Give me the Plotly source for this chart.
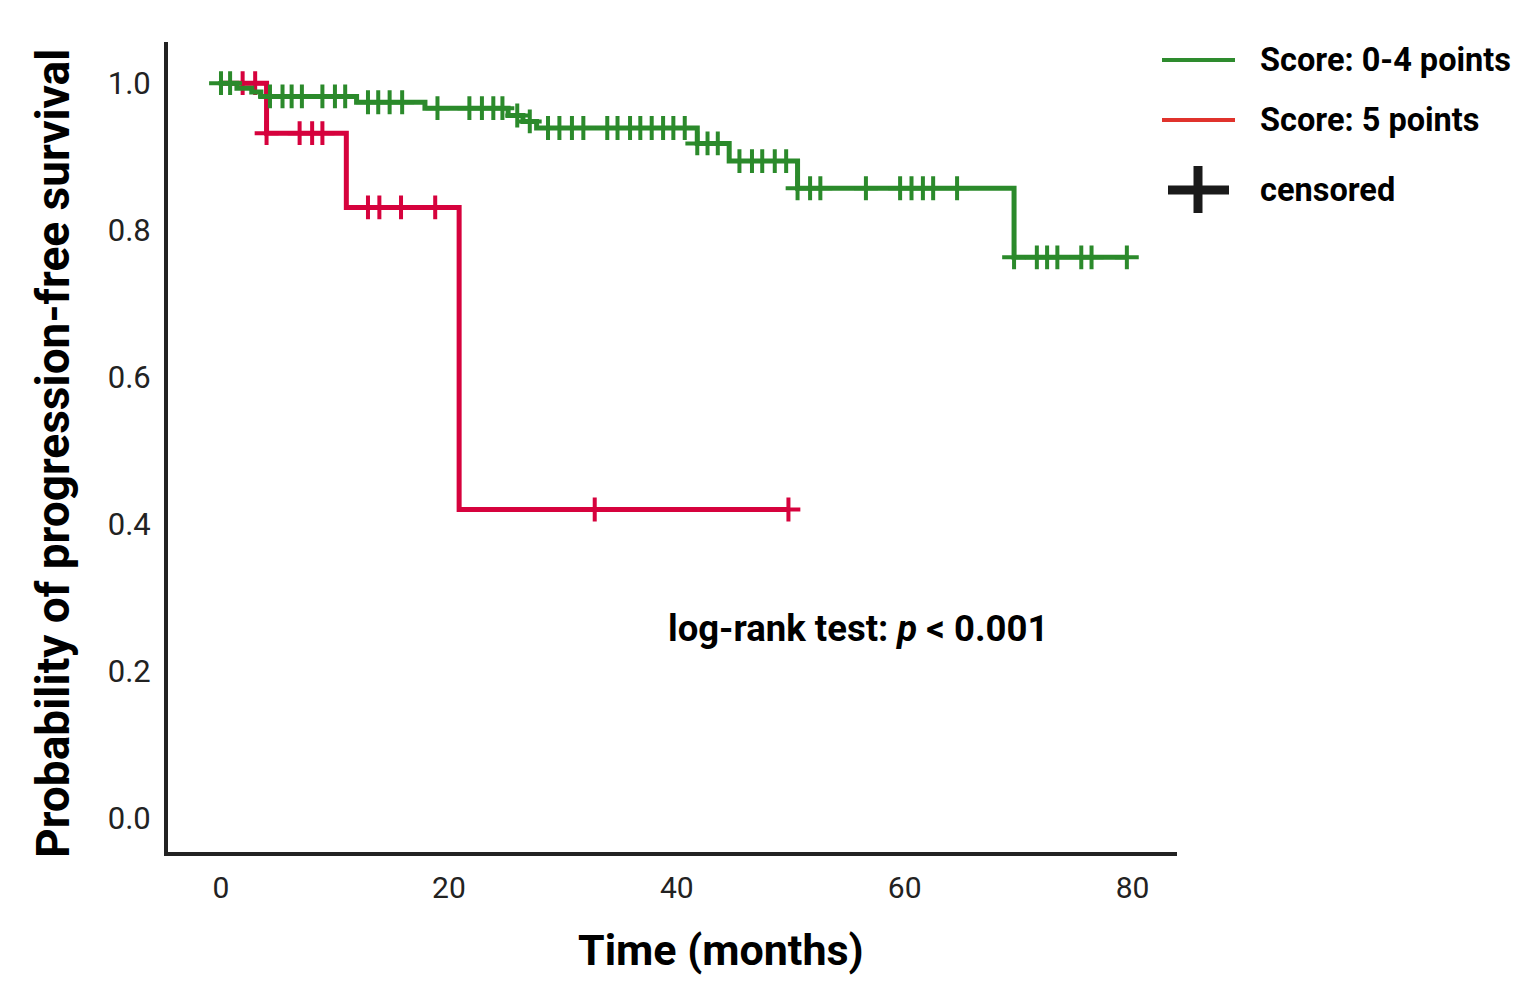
import numpy as np
import plotly.graph_objects as go

# ---- data ----
green_event_times = [1.4, 2.7, 3.5, 11.9, 17.9, 25.2, 26.5, 27.7, 41.8, 44.6, 50.6, 69.6]
green_survival = [0.993, 0.988, 0.982, 0.974, 0.966, 0.956, 0.948, 0.939, 0.918, 0.894, 0.857, 0.763]
green_censor_times = [0.0, 0.8,
                      4.3, 5.4, 6.2, 7.1, 8.9, 10.0, 10.9,
                      12.9, 13.8, 14.8, 15.9,
                      19.0, 21.8, 22.9, 23.9, 24.7,
                      26.0, 27.1,
                      28.7, 29.7, 30.8, 31.8, 33.9, 34.8, 35.9, 36.8, 37.8, 38.8, 39.7, 40.7,
                      41.8, 42.7, 43.6,
                      45.5, 46.6, 47.5, 48.6, 49.6,
                      50.6, 51.7, 52.6, 56.6, 59.6, 60.6, 61.6, 62.5, 64.6,
                      69.6, 71.6, 72.5, 73.4, 75.5, 76.4, 79.5]
green_end = 79.5

red_event_times = [4.0, 11.0, 20.9]
red_survival = [0.932, 0.831, 0.420]
red_censor_times = [1.9, 3.0, 4.0, 6.9, 8.0, 8.9, 12.9, 13.9, 15.8, 18.8, 32.8, 49.8]
red_end = 49.8

x_ticks = [0, 20, 40, 60, 80]
y_ticks = [0.0, 0.2, 0.4, 0.6, 0.8, 1.0]

legend_labels = ["Score: 0-4 points", "Score: 5 points", "censored"]

GREEN = "#2b8a2b"
RED = "#d6023d"
LEG_GREEN = "#2e8b2e"
LEG_RED = "#e0332c"
AX = "#222222"


def km_path(times, surv, end):
    xs = [0.0] + list(times) + [end]
    ys = [1.0] + list(surv) + [surv[-1]]
    return xs, ys


def surv_at(t, times, surv):
    s = 1.0
    for ti, si in zip(times, surv):
        if ti <= t:
            s = si
    return s


fig = go.Figure()

for times, surv, end, ctimes, col in [
    (red_event_times, red_survival, red_end, red_censor_times, RED),
    (green_event_times, green_survival, green_end, green_censor_times, GREEN),
]:
    xs, ys = km_path(times, surv, end)
    fig.add_trace(go.Scatter(x=xs, y=ys, mode="lines", line=dict(color=col, width=5, shape="hv"),
                             showlegend=False, hoverinfo="skip"))
    cy = [surv_at(t, times, surv) for t in ctimes]
    fig.add_trace(go.Scatter(x=ctimes, y=cy, mode="markers",
                             marker=dict(symbol="cross-thin", size=17, line=dict(color=col, width=4)),
                             showlegend=False, hoverinfo="skip"))

font_family = "Roboto"

# page offset compensation (body margin)
OX, OY = 8, 8
PL, PT, PW, PH = 168 - OX, 42 - OY, 1009, 810

fig.update_layout(
    width=1536, height=996,
    margin=dict(l=PL, r=1536 - PL - PW, t=PT, b=996 - PT - PH),
    paper_bgcolor="white", plot_bgcolor="white",
    font=dict(family=font_family, color=AX),
    xaxis=dict(range=[-4.65, 83.9], tickvals=x_ticks, ticktext=[str(v) for v in x_ticks],
               showgrid=False, zeroline=False, showline=True, linecolor=AX, linewidth=4,
               ticks="", tickfont=dict(size=30, color=AX), ticklabelstandoff=6),
    yaxis=dict(range=[-0.046, 1.056], tickvals=y_ticks, ticktext=[f"{v:.1f}" for v in y_ticks],
               showgrid=False, zeroline=False, showline=True, linecolor=AX, linewidth=4,
               ticks="", tickfont=dict(size=31, color=AX), ticklabelstandoff=7),
)

def px_x(p):
    return (p - 168) / PW

def px_y(p):
    return (852 - p) / PH

annotations = [
    dict(text="<b>Time (months)</b>", x=px_x(721), y=px_y(950), xref="paper", yref="paper",
         showarrow=False, font=dict(size=43, color="black", family=font_family), xanchor="center", yanchor="middle"),
    dict(text="<b>Probability of progression-free survival</b>", x=px_x(53), y=px_y(454), xref="paper", yref="paper",
         showarrow=False, textangle=-90, font=dict(size=46, color="black", family=font_family),
         xanchor="center", yanchor="middle"),
    dict(text="<b>log-rank test: <i>p</i> &lt; 0.001</b>", x=px_x(858), y=px_y(628), xref="paper", yref="paper",
         showarrow=False, font=dict(size=36.5, color="black", family=font_family), xanchor="center", yanchor="middle"),
]
for lab, py in zip(legend_labels, [60, 120, 190]):
    annotations.append(dict(text=f"<b>{lab}</b>", x=px_x(1258), y=px_y(py), xref="paper", yref="paper",
                            showarrow=False, font=dict(size=32.5, color="black", family=font_family),
                            xanchor="left", yanchor="middle"))
fig.update_layout(annotations=annotations)

shapes = [
    dict(type="line", xref="paper", yref="paper", x0=px_x(1162), x1=px_x(1235), y0=px_y(60), y1=px_y(60),
         line=dict(color=LEG_GREEN, width=4)),
    dict(type="line", xref="paper", yref="paper", x0=px_x(1162), x1=px_x(1235), y0=px_y(120), y1=px_y(120),
         line=dict(color=LEG_RED, width=4)),
    dict(type="line", xref="paper", yref="paper", x0=px_x(1168), x1=px_x(1229), y0=px_y(190), y1=px_y(190),
         line=dict(color="#1a1a1a", width=9)),
    dict(type="line", xref="paper", yref="paper", x0=px_x(1198), x1=px_x(1198), y0=px_y(166), y1=px_y(213),
         line=dict(color="#1a1a1a", width=9)),
]
fig.update_layout(shapes=shapes)

fig.write_html("out.html")
